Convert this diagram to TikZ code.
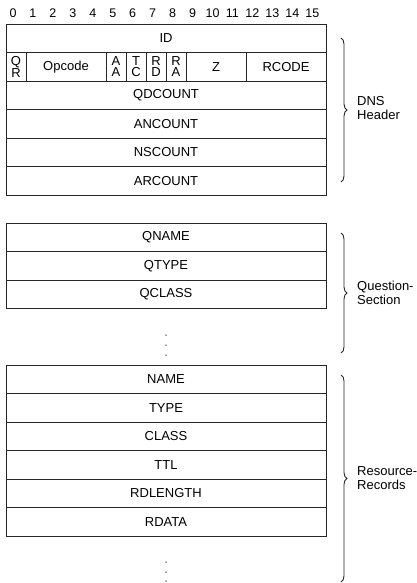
\documentclass[tikz,border=0pt]{standalone}
\usepackage{fontspec}
\setmainfont{Liberation Sans}
\usetikzlibrary{decorations.pathreplacing}
\begin{document}
\begin{tikzpicture}[x=1pt,y=-1pt,
  field/.style={draw=black!85,line width=0.9pt,inner sep=0pt,outer sep=0pt,
    minimum height=28.5pt,font=\fontsize{13}{13}\selectfont},
  full/.style={field,minimum width=320pt},
  bit/.style={field,minimum width=20pt,align=center,font=\fontsize{13}{11.5}\selectfont},
  bitnum/.style={font=\fontsize{12.5}{12}\selectfont,inner sep=0pt},
  sidelabel/.style={align=left,anchor=west,inner sep=0pt,font=\fontsize{13}{14}\selectfont},
  bracket/.style={draw=black!85,line width=0.9pt,decorate,decoration={brace,amplitude=6pt}},
  dot/.style={fill=black!80,circle,inner sep=0pt,minimum size=1.5pt}]
\useasboundingbox (0,0) rectangle (417,583);
% bit numbers
\foreach \i in {0,...,15}{
  \node[bitnum] (b\i) at ({13+19.95*\i},13) {\i};
}
% header
\node[full] (id) at (166,38.25) {ID};
\node[bit] (qr) at (16,66.75) {Q\\R};
\node[field,minimum width=80pt] (opcode) at (66,66.75) {Opcode};
\node[bit] (aa) at (116,66.75) {A\\A};
\node[bit] (tc) at (136,66.75) {T\\C};
\node[bit] (rd) at (156,66.75) {R\\D};
\node[bit] (ra) at (176,66.75) {R\\A};
\node[field,minimum width=60pt] (z) at (216,66.75) {Z};
\node[field,minimum width=80pt] (rcode) at (286,66.75) {RCODE};
\node[full] (qdcount) at (166,95.25) {QDCOUNT};
\node[full] (ancount) at (166,123.75) {ANCOUNT};
\node[full] (nscount) at (166,152.25) {NSCOUNT};
\node[full] (arcount) at (166,180.75) {ARCOUNT};
% question
\node[full] (qname) at (166,237.25) {QNAME};
\node[full] (qtype) at (166,265.75) {QTYPE};
\node[full] (qclass) at (166,294.25) {QCLASS};
\node[dot] (qd1) at (166,335) {};
\node[dot] (qd2) at (166,345) {};
\node[dot] (qd3) at (166,355) {};
% resource records
\node[full] (name) at (166,379.25) {NAME};
\node[full] (type) at (166,407.75) {TYPE};
\node[full] (class) at (166,436.25) {CLASS};
\node[full] (ttl) at (166,464.75) {TTL};
\node[full] (rdlength) at (166,493.25) {RDLENGTH};
\node[full] (rdata) at (166,521.75) {RDATA};
\node[dot] (rd1) at (166,562) {};
\node[dot] (rd2) at (166,572) {};
\node[dot] (rd3) at (166,581) {};
% braces
\coordinate (h1) at (341,38);
\coordinate (h2) at (341,182);
\draw[bracket] (h1) -- (h2);
\node[sidelabel] (dnsl) at (357,108) {DNS\\Header};
\coordinate (q1) at (341,233);
\coordinate (q2) at (341,353);
\draw[bracket] (q1) -- (q2);
\node[sidelabel] (qsl) at (357,293) {Question-\\Section};
\coordinate (r1) at (341,375);
\coordinate (r2) at (341,582);
\draw[bracket] (r1) -- (r2);
\node[sidelabel] (rrl) at (357,478.5) {Resource-\\Records};
\end{tikzpicture}
\end{document}
